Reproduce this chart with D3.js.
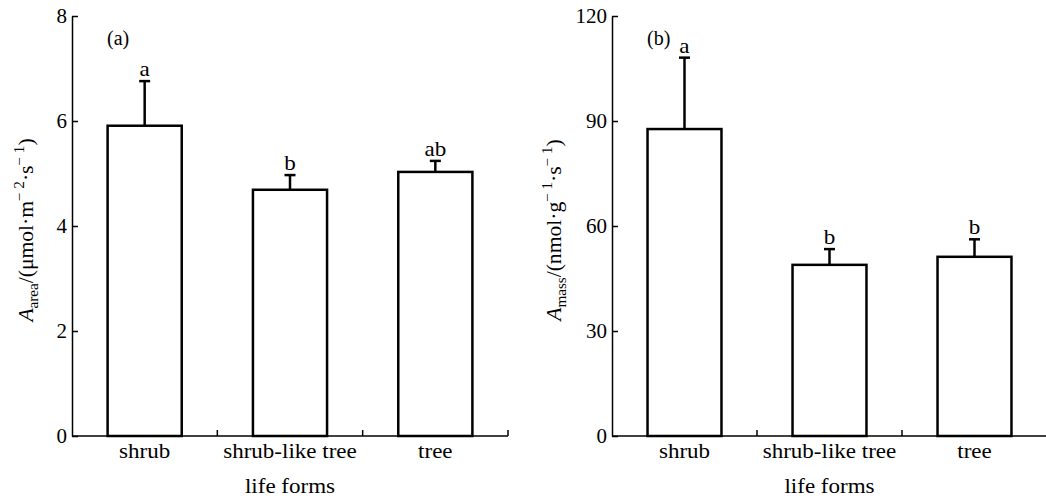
<!DOCTYPE html>
<html>
<head>
<meta charset="utf-8">
<script src="https://cdn.jsdelivr.net/npm/d3@7"></script>
<style>
  body { margin: 0; background: #fff; }
  text { font-family: "Liberation Serif", "DejaVu Serif", serif; fill: #000; }
</style>
</head>
<body>
<div id="display"></div>
<script>
var width = 1046,
    height = 501;

// life forms
var categories = ["shrub", "shrub-like tree", "tree"];

// (a) A_area, umol m-2 s-1
var areaMean = [5.91, 4.69, 5.03];
var areaErr = [0.85, 0.28, 0.21];
var areaLetters = ["a", "b", "ab"];
var areaTicks = [0, 2, 4, 6, 8];

// (b) A_mass, nmol g-1 s-1
var massMean = [87.7, 48.9, 51.2];
var massErr = [20.4, 4.5, 5.0];
var massLetters = ["a", "b", "b"];
var massTicks = [0, 30, 60, 90, 120];

var svg = d3.select("#display")
    .append("svg")
    .attr("width", width)
    .attr("height", height);

// stretch words a little wider, like the original figure
function stretch(sel, k) {
    sel.each(function () {
        var w = this.getComputedTextLength();
        d3.select(this).attr("textLength", w * k).attr("lengthAdjust", "spacingAndGlyphs");
    });
}

function drawPanel(opt) {
    var g = svg.append("g");

    var x = d3.scaleBand()
        .domain(categories)
        .range([opt.x0, opt.x1])
        .paddingInner(0.49)
        .paddingOuter(0.245);

    var y = d3.scaleLinear()
        .domain([0, opt.max])
        .range([436, 16]);

    // y axis, ticks inside
    var yAxis = g.append("g")
        .attr("transform", "translate(" + opt.x0 + ",0)")
        .call(d3.axisLeft(y).tickValues(opt.ticks).tickSizeInner(-6).tickSizeOuter(0).tickPadding(5));
    yAxis.select(".domain").attr("stroke", "#000").attr("stroke-width", 1.5);
    yAxis.selectAll(".tick line").attr("stroke", "#000").attr("stroke-width", 1.5);
    yAxis.selectAll("text")
        .style("font-size", "21px")
        .attr("fill", "#000");

    // bars
    g.selectAll(".bar")
        .data(opt.mean)
        .enter()
        .append("rect")
        .attr("class", "bar")
        .attr("x", (d, i) => x(categories[i]))
        .attr("y", d => y(d))
        .attr("width", x.bandwidth())
        .attr("height", d => y(0) - y(d))
        .attr("fill", "#fff")
        .attr("stroke", "#000")
        .attr("stroke-width", 2.5);

    // error bars (upper only)
    var cx = i => x(categories[i]) + x.bandwidth() / 2;
    g.selectAll(".err")
        .data(opt.mean)
        .enter()
        .append("line")
        .attr("x1", (d, i) => cx(i))
        .attr("x2", (d, i) => cx(i))
        .attr("y1", d => y(d))
        .attr("y2", (d, i) => y(d + opt.err[i]))
        .attr("stroke", "#000")
        .attr("stroke-width", 2.5);
    g.selectAll(".cap")
        .data(opt.mean)
        .enter()
        .append("line")
        .attr("x1", (d, i) => cx(i) - 5.5)
        .attr("x2", (d, i) => cx(i) + 5.5)
        .attr("y1", (d, i) => y(d + opt.err[i]))
        .attr("y2", (d, i) => y(d + opt.err[i]))
        .attr("stroke", "#000")
        .attr("stroke-width", 2.5);

    // significance letters
    var sig = g.selectAll(".sig")
        .data(opt.letters)
        .enter()
        .append("text")
        .attr("x", (d, i) => cx(i))
        .attr("y", (d, i) => y(opt.mean[i] + opt.err[i]) - 5)
        .attr("text-anchor", "middle")
        .style("font-size", "21px")
        .text(d => d);
    stretch(sig, 1.1);

    // x axis line with boundary ticks pointing up
    g.append("line")
        .attr("x1", opt.x0).attr("x2", opt.x1)
        .attr("y1", y(0)).attr("y2", y(0))
        .attr("stroke", "#000").attr("stroke-width", 1.5);
    var bounds = [1, 2, 3].map(k => opt.x0 + x.step() * k);
    g.selectAll(".xtick")
        .data(bounds)
        .enter()
        .append("line")
        .attr("x1", d => d).attr("x2", d => d)
        .attr("y1", y(0)).attr("y2", y(0) - 6)
        .attr("stroke", "#000").attr("stroke-width", 1.5);

    // category labels
    var labs = g.selectAll(".cat")
        .data(categories)
        .enter()
        .append("text")
        .attr("x", d => x(d) + x.bandwidth() / 2)
        .attr("y", 458)
        .attr("text-anchor", "middle")
        .style("font-size", "20px")
        .text(d => d);
    stretch(labs, 1.15);

    var xt = g.append("text")
        .attr("x", opt.x0 + x.step() * 1.5)
        .attr("y", 493)
        .attr("text-anchor", "middle")
        .style("font-size", "20px")
        .text("life forms");
    stretch(xt, 1.15);

    // panel tag
    g.append("text")
        .attr("x", opt.x0 + 35)
        .attr("y", 45)
        .style("font-size", "20px")
        .text(opt.tag);

    // y label
    var yl = g.append("text")
        .attr("transform", "translate(" + opt.labelX + ",230) rotate(-90) scale(1.08,1)")
        .attr("text-anchor", "middle")
        .style("font-size", "20px");
    yl.append("tspan").style("font-style", "italic").text("A");
    yl.append("tspan").attr("dy", 5).style("font-size", "14px").text(opt.sub);
    yl.append("tspan").attr("dy", -5).text(opt.unitA);
    yl.append("tspan").attr("dy", -9).style("font-size", "14px").text("\u2212 " + opt.supA);
    yl.append("tspan").attr("dy", 9).text("\u00b7s");
    yl.append("tspan").attr("dy", -9).style("font-size", "14px").text("\u2212 1");
    yl.append("tspan").attr("dy", 9).text(")");
}

drawPanel({
    x0: 72, x1: 508, max: 8, ticks: areaTicks,
    mean: areaMean, err: areaErr, letters: areaLetters,
    tag: "(a)", labelX: 33, sub: "area", unitA: "/(\u03bcmol\u00b7m", supA: "2"
});

drawPanel({
    x0: 612, x1: 1047, max: 120, ticks: massTicks,
    mean: massMean, err: massErr, letters: massLetters,
    tag: "(b)", labelX: 561, sub: "mass", unitA: "/(nmol\u00b7g", supA: "1"
});
</script>
</body>
</html>
